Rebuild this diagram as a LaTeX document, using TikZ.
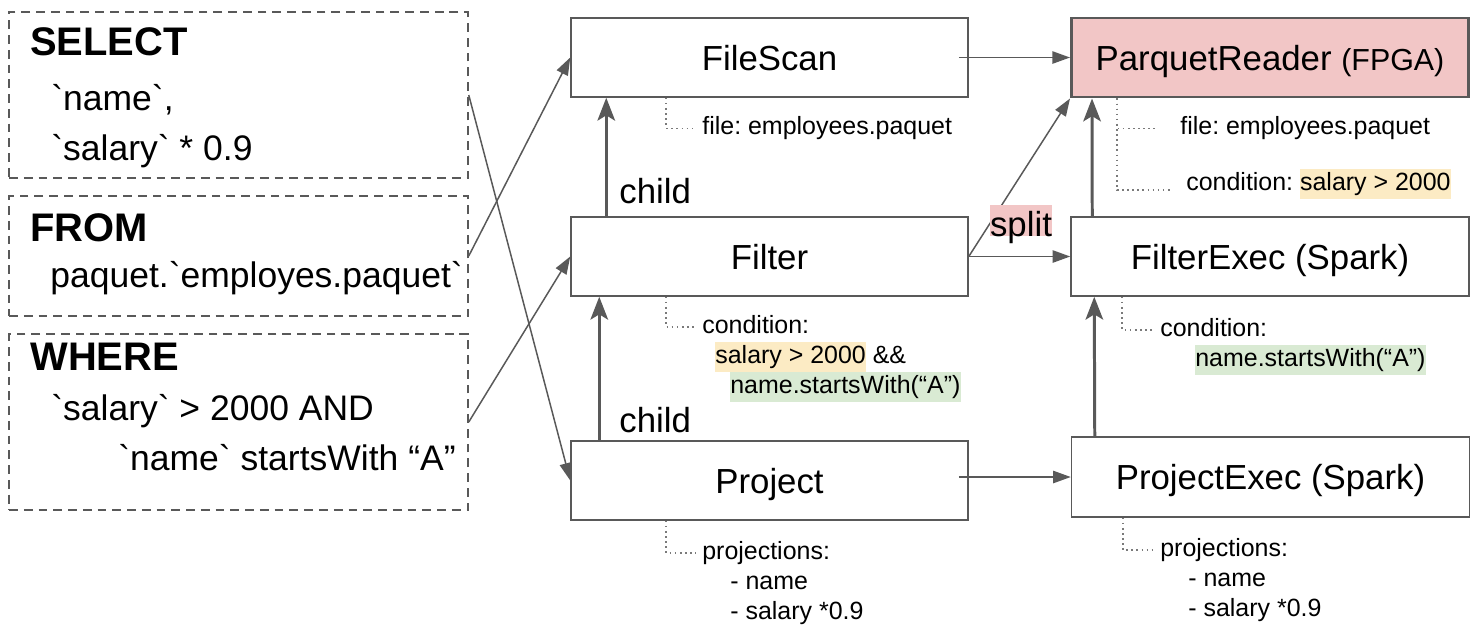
\documentclass[tikz,border=0pt]{standalone}
\usepackage{fontspec}
\setmainfont{Liberation Sans}[Ligatures=TeXOff]
\usepackage{tikz}
\usetikzlibrary{arrows.meta,positioning}
\frenchspacing

\definecolor{linegray}{HTML}{595959}
\definecolor{dotgray}{HTML}{7A7A7A}
\definecolor{fpgapink}{HTML}{F2C6C6}
\definecolor{hlyellow}{HTML}{FCEBC4}
\definecolor{hlgreen}{HTML}{D9EAD3}

\newcommand{\opfont}{\fontsize{19.8pt}{24pt}\selectfont}
\newcommand{\sqlhead}{\fontsize{22.7pt}{27pt}\selectfont\bfseries}
\newcommand{\sqlfont}{\fontsize{20.2pt}{24pt}\selectfont}
\newcommand{\notefont}{\fontsize{14.2pt}{17pt}\selectfont}
\newcommand{\hly}[1]{{\setlength{\fboxsep}{0pt}\colorbox{hlyellow}{\strut#1}}}
\newcommand{\hlg}[1]{{\setlength{\fboxsep}{0pt}\colorbox{hlgreen}{\strut#1}}}

\begin{document}
\begin{tikzpicture}[
	opbox/.style={draw=linegray, line width=0.85pt, minimum width=7.94cm, minimum height=1.58cm, inner sep=0pt, text height=14.3pt, text depth=0pt, font=\opfont},
	fpgabox/.style={opbox, fill=fpgapink, line width=1.7pt},
	sqlbox/.style={draw=linegray, line width=0.85pt, dash pattern=on 5pt off 3.4pt, minimum width=9.18cm, inner sep=0pt},
	sqlkw/.style={anchor=base west, inner sep=0pt, font=\sqlhead},
	sqltxt/.style={anchor=base west, inner sep=0pt, font=\sqlfont},
	note/.style={anchor=north west, inner xsep=0.12cm, inner ysep=0pt, align=left, font=\notefont},
	noteline/.style={draw=dotgray, line width=0.9pt, dash pattern=on 0.9pt off 2pt},
	flow/.style={draw=linegray, line width=0.85pt, -{Triangle[length=10pt,width=7pt]}},
	childarrow/.style={draw=linegray, line width=1.7pt, -{Stealth[length=13pt,width=10pt,inset=3pt]}},
	lbl/.style={anchor=base west, inner sep=0pt, font=\opfont}]
				\useasboundingbox (0,0) rectangle (29.54,-12.78);

				\node[sqlbox, minimum height=3.32cm] (sel) at (4.77,-1.90) {};
				\node[sqlbox, minimum height=2.40cm] (frm) at (4.77,-5.12) {};
				\node[sqlbox, minimum height=3.52cm] (whr) at (4.77,-8.44) {};
				\node[sqlkw] (selkw) at (0.60,-1.10) {SELECT};
				\node[sqltxt] (selname) at (1.02,-2.20) {`name`,};
				\node[sqltxt] (selsal) at (1.02,-3.20) {`salary` * 0.9};
				\node[sqlkw] (frmkw) at (0.60,-4.82) {FROM};
				\node[sqltxt] (frmtbl) at (1.00,-5.74) {paquet.`employes.paquet`};
				\node[sqlkw] (whrkw) at (0.60,-7.40) {WHERE};
				\node[sqltxt] (whrsal) at (1.02,-8.40) {`salary` > 2000 AND};
				\node[sqltxt] (whrname) at (2.36,-9.40) {`name` startsWith “A”};

				\node[opbox] (fs) at (15.39,-1.15) {FileScan};
				\node[opbox] (flt) at (15.39,-5.13) {Filter};
				\node[opbox] (prj) at (15.39,-9.61) {Project};
				\node[fpgabox] (pr) at (25.40,-1.15) {ParquetReader {\fontsize{17.3pt}{20pt}\selectfont (FPGA)}};
				\node[opbox, minimum width=7.96cm] (fe) at (25.40,-5.13) {FilterExec (Spark)};
				\node[opbox, minimum width=7.96cm, minimum height=1.60cm] (pe) at (25.41,-9.54) {ProjectExec (Spark)};

				\draw[flow] (sel.east) -- (prj.west);
				\draw[flow] (frm.east) -- (fs.west);
				\draw[flow] (whr.east) -- (flt.west);
				\draw[flow] ([xshift=-0.2cm]fs.east) -- (pr.west);
				\draw[flow] (flt.east) -- (fe.west);
				\draw[flow] (flt.east) -- (pr.south west);
				\draw[flow] ([xshift=-0.2cm]prj.east |- pe.west) -- (pe.west);
				\node[fill=fpgapink, inner sep=0pt, text height=18pt, text depth=0pt, font=\opfont] (split) at (20.42,-4.41) {split};

				\draw[childarrow] ([xshift=0.72cm]flt.north west) -- ([xshift=0.72cm]fs.south west);
				\draw[childarrow] ([xshift=0.58cm]prj.north west) -- ([xshift=0.58cm]flt.south west);
				\draw[childarrow] ([xshift=0.44cm]fe.north west) -- ([xshift=0.44cm]pr.south west);
				\draw[childarrow] ([xshift=0.48cm]pe.north west) -- ([xshift=0.48cm]fe.south west);
				\node[lbl] (child1) at (12.38,-4.06) {child};
				\node[lbl] (child2) at (12.38,-8.64) {child};

				\node[note] (fsnote) at (13.92,-2.26) {\strut file: employees.paquet};
				\node[note] (fltnote) at (13.92,-6.24) {\strut condition:\\ \hspace*{0.26cm}\hly{salary > 2000} \&\&\\ \hspace*{0.56cm}\hlg{name.startsWith(“A”)}};
				\node[note] (prjnote) at (13.92,-10.76) {\strut projections:\\ \strut\hspace*{0.56cm}- name\\ \strut\hspace*{0.56cm}- salary *0.9};
				\node[note] (prfile) at (23.48,-2.26) {\strut file: employees.paquet};
				\node[note] (prcond) at (23.60,-3.38) {\strut condition: \hly{salary > 2000}};
				\node[note] (fenote) at (23.08,-6.30) {\strut condition:\\ \hspace*{0.70cm}\hlg{name.startsWith(“A”)}};
				\node[note] (penote) at (23.08,-10.70) {\strut projections:\\ \strut\hspace*{0.56cm}- name\\ \strut\hspace*{0.56cm}- salary *0.9};

				\draw[noteline] ([xshift=1.92cm]fs.south west) |- (fsnote.west);
				\draw[noteline] ([xshift=1.92cm]flt.south west) |- ([yshift=-8.5pt]fltnote.north west);
				\draw[noteline] ([xshift=1.92cm]prj.south west) |- ([yshift=-8.5pt]prjnote.north west);
				\draw[noteline, shorten >=0.36cm] ([xshift=0.94cm]pr.south west) |- (prfile.west);
				\draw[noteline, shorten >=0.16cm] ([xshift=0.94cm]pr.south west) |- (prcond.base west);
				\draw[noteline] ([xshift=1.04cm]fe.south west) |- ([yshift=-8.5pt]fenote.north west);
				\draw[noteline] ([xshift=1.04cm]pe.south west) |- ([yshift=-8.5pt]penote.north west);
\end{tikzpicture}
\end{document}
